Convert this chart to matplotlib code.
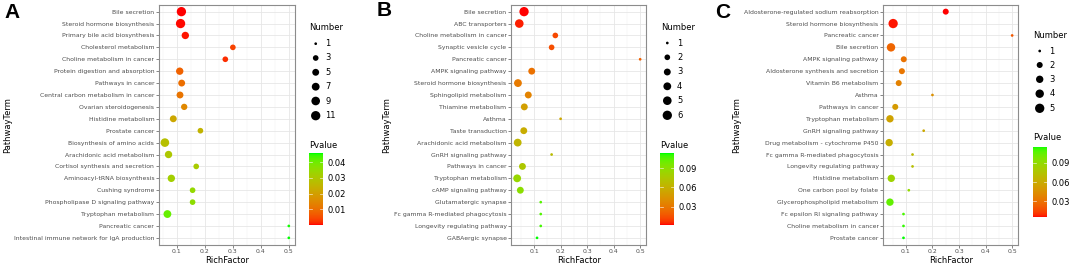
import numpy as np
import matplotlib
matplotlib.use("Agg")
import matplotlib.pyplot as plt
from matplotlib.colors import ListedColormap, Normalize

# ---------------- data ----------------
terms_a = ["Bile secretion", "Steroid hormone biosynthesis", "Primary bile acid biosynthesis",
           "Cholesterol metabolism", "Choline metabolism in cancer", "Protein digestion and absorption",
           "Pathways in cancer", "Central carbon metabolism in cancer", "Ovarian steroidogenesis",
           "Histidine metabolism", "Prostate cancer", "Biosynthesis of amino acids",
           "Arachidonic acid metabolism", "Cortisol synthesis and secretion", "Aminoacyl-tRNA biosynthesis",
           "Cushing syndrome", "Phospholipase D signaling pathway", "Tryptophan metabolism",
           "Pancreatic cancer", "Intestinal immune network for IgA production"]
rich_a = [0.116, 0.113, 0.130, 0.300, 0.273, 0.110, 0.117, 0.111, 0.126, 0.087,
          0.184, 0.057, 0.070, 0.169, 0.080, 0.156, 0.156, 0.066, 0.5, 0.5]
count_a = [11, 11, 6, 3, 3, 6, 5, 5, 4, 5, 3, 9, 6, 3, 6, 3, 3, 7, 1, 1]
pval_a = [0.0001, 0.0003, 0.0008, 0.004, 0.002, 0.008, 0.010, 0.011, 0.015, 0.022,
          0.025, 0.028, 0.030, 0.031, 0.032, 0.035, 0.036, 0.041, 0.0455, 0.0457]

terms_b = ["Bile secretion", "ABC transporters", "Choline metabolism in cancer", "Synaptic vesicle cycle",
           "Pancreatic cancer", "AMPK signaling pathway", "Steroid hormone biosynthesis",
           "Sphingolipid metabolism", "Thiamine metabolism", "Asthma", "Taste transduction",
           "Arachidonic acid metabolism", "GnRH signaling pathway", "Pathways in cancer",
           "Tryptophan metabolism", "cAMP signaling pathway", "Glutamatergic synapse",
           "Fc gamma R-mediated phagocytosis", "Longevity regulating pathway", "GABAergic synapse"]
rich_b = [0.062, 0.044, 0.180, 0.166, 0.5, 0.091, 0.039, 0.078, 0.063, 0.2,
          0.061, 0.038, 0.166, 0.056, 0.036, 0.048, 0.125, 0.125, 0.125, 0.111]
count_b = [6, 5, 2, 2, 1, 3, 4, 3, 3, 1, 3, 4, 1, 3, 4, 3, 1, 1, 1, 1]
pval_b = [0.0014, 0.004, 0.012, 0.014, 0.020, 0.027, 0.031, 0.035, 0.050, 0.055,
          0.058, 0.063, 0.068, 0.075, 0.085, 0.090, 0.105, 0.106, 0.108, 0.113]

terms_c = ["Aldosterone-regulated sodium reabsorption", "Steroid hormone biosynthesis", "Pancreatic cancer",
           "Bile secretion", "AMPK signaling pathway", "Aldosterone synthesis and secretion",
           "Vitamin B6 metabolism", "Asthma", "Pathways in cancer", "Tryptophan metabolism",
           "GnRH signaling pathway", "Drug metabolism - cytochrome P450", "Fc gamma R-mediated phagocytosis",
           "Longevity regulating pathway", "Histidine metabolism", "One carbon pool by folate",
           "Glycerophospholipid metabolism", "Fc epsilon RI signaling pathway",
           "Choline metabolism in cancer", "Prostate cancer"]
rich_c = [0.250, 0.052, 0.5, 0.044, 0.092, 0.085, 0.073, 0.2, 0.060, 0.040,
          0.167, 0.037, 0.125, 0.125, 0.045, 0.111, 0.040, 0.091, 0.091, 0.091]
count_c = [2, 5, 1, 4, 2, 2, 2, 1, 2, 3, 1, 3, 1, 1, 3, 1, 3, 1, 1, 1]
pval_c = [0.0043, 0.006, 0.020, 0.025, 0.030, 0.032, 0.037, 0.045, 0.050, 0.055,
          0.058, 0.062, 0.070, 0.072, 0.085, 0.090, 0.105, 0.110, 0.113, 0.1157]

size_breaks_a = [1, 3, 5, 7, 9, 11]
size_breaks_b = [1, 2, 3, 4, 5, 6]
size_breaks_c = [1, 2, 3, 4, 5]
cbar_ticks_a = [0.01, 0.02, 0.03, 0.04]
cbar_ticks_b = [0.03, 0.06, 0.09]
cbar_ticks_c = [0.03, 0.06, 0.09]
panel_letters = ["A", "B", "C"]

# ---------------- colour map: Lab interpolation red -> green ----------------
_M = np.array([[0.4124564, 0.3575761, 0.1804375],
               [0.2126729, 0.7151522, 0.0721750],
               [0.0193339, 0.1191920, 0.9503041]])
_WHITE = np.array([0.95047, 1.0, 1.08883])

def _srgb_to_lab(rgb):
    rgb = np.asarray(rgb, float)
    lin = np.where(rgb <= 0.04045, rgb / 12.92, ((rgb + 0.055) / 1.055) ** 2.4)
    xyz = _M @ lin / _WHITE
    d = 6 / 29
    f = np.where(xyz > d ** 3, np.cbrt(xyz), xyz / (3 * d * d) + 4 / 29)
    return np.array([116 * f[1] - 16, 500 * (f[0] - f[1]), 200 * (f[1] - f[2])])

def _lab_to_srgb(lab):
    L, a, b = lab
    fy = (L + 16) / 116
    fx = fy + a / 500
    fz = fy - b / 200
    d = 6 / 29
    finv = lambda t: np.where(t > d, t ** 3, 3 * d * d * (t - 4 / 29))
    xyz = np.array([finv(fx), finv(fy), finv(fz)]) * _WHITE[:, None]
    lin = np.clip(np.linalg.inv(_M) @ xyz, 0, 1)
    srgb = np.where(lin <= 0.0031308, 12.92 * lin, 1.055 * lin ** (1 / 2.4) - 0.055)
    return np.clip(srgb, 0, 1).T

lab0 = _srgb_to_lab([1, 0, 0])
lab1 = _srgb_to_lab([0, 1, 0])
tt = np.linspace(0, 1, 256)
labs = lab0[:, None] * (1 - tt) + lab1[:, None] * tt
cmap = ListedColormap(_lab_to_srgb(labs))

# ---------------- layout ----------------
W, H = 1072, 266
fig = plt.figure(figsize=(W / 100, H / 100), dpi=100)
plt.rcParams['font.family'] = ['DejaVu Sans']

def box(l, t, r, b):
    return [l / W, 1 - b / H, (r - l) / W, (b - t) / H]

overlay = fig.add_axes([0, 0, 1, 1], zorder=10)
overlay.set_xlim(0, W)
overlay.set_ylim(H, 0)
overlay.axis("off")
overlay.patch.set_alpha(0)

def size_pt2(n, nmin, nmax):
    t = (np.asarray(n, float) - nmin) / (nmax - nmin)
    d_px = 2.7 + 6.6 * np.sqrt(t)
    return (d_px * 0.72) ** 2

panels = [
    dict(terms=terms_a, rich=rich_a, count=count_a, pval=pval_a, breaks=size_breaks_a,
         cticks=cbar_ticks_a, ax=(158.7, 4.5, 295, 245), num=(309, 28), dotx=315.7, labx=325.5,
         ys=[43.7, 58, 72.3, 86.7, 101, 115.7], pv=(309, 145.3), cb=(309, 153.3, 323, 225),
         letter=(4, 12), ylab=7.5),
    dict(terms=terms_b, rich=rich_b, count=count_b, pval=pval_b, breaks=size_breaks_b,
         cticks=cbar_ticks_b, ax=(511, 4.5, 646.3, 245), num=(660.7, 28), dotx=667.3, labx=677,
         ys=[43, 57.3, 72, 86.3, 100.7, 115.3], pv=(660, 145), cb=(660, 153.3, 674, 225),
         letter=(377, 11), ylab=387),
    dict(terms=terms_c, rich=rich_c, count=count_c, pval=pval_c, breaks=size_breaks_c,
         cticks=cbar_ticks_c, ax=(883, 4.5, 1018.3, 245), num=(1032.7, 35), dotx=1039.7, labx=1049.5,
         ys=[51, 65, 79.3, 93.7, 108.3], pv=(1032.7, 137.7), cb=(1032.7, 146.7, 1046.7, 217.3),
         letter=(715, 12), ylab=737),
]

grey_txt = "#4D4D4D"
for i, p in enumerate(panels):
    ax = fig.add_axes(box(*p["ax"]))
    n = len(p["terms"])
    ypos = np.arange(n)
    rich = np.asarray(p["rich"])
    nmin, nmax = min(p["breaks"]), max(p["breaks"])
    norm = Normalize(vmin=min(p["pval"]), vmax=max(p["pval"]))
    ax.scatter(rich, ypos, s=size_pt2(p["count"], nmin, nmax), c=p["pval"], cmap=cmap, norm=norm,
               linewidths=0, zorder=3)
    rng = rich.max() - rich.min()
    ax.set_xlim(rich.min() - 0.05 * rng, rich.max() + 0.05 * rng)
    ax.set_ylim(n - 1 + 0.6, -0.6)
    ax.set_yticks(ypos)
    ax.set_yticklabels(p["terms"])
    ax.set_xticks([0.1, 0.2, 0.3, 0.4, 0.5])
    ax.set_xticklabels(["0.1", "0.2", "0.3", "0.4", "0.5"])
    ax.set_xticks([0.05, 0.15, 0.25, 0.35, 0.45], minor=True)
    ax.grid(True, which="major", color="#E6E6E6", lw=0.6, zorder=0)
    ax.grid(True, which="minor", axis="x", color="#F0F0F0", lw=0.35, zorder=0)
    ax.set_axisbelow(True)
    ax.tick_params(axis="both", which="major", labelsize=4.4, labelcolor=grey_txt, color="#555555",
                   length=2.2, width=0.5, pad=1)
    ax.tick_params(axis="x", which="minor", length=0)
    for sp in ax.spines.values():
        sp.set_color("#8C8C8C")
        sp.set_linewidth(0.8)
    ax.set_xlabel("RichFactor", fontsize=6, labelpad=1)
    ax.set_ylabel("")
    overlay.text(p["ylab"], 125, "PathwayTerm", rotation=90, fontsize=6, ha="center", va="center")
    overlay.text(p["letter"][0], p["letter"][1], panel_letters[i], fontsize=15, fontweight="bold",
                 family=["Liberation Sans", "DejaVu Sans"], ha="left", va="center")
    # size legend
    overlay.text(p["num"][0], p["num"][1], "Number", fontsize=6, ha="left", va="center")
    overlay.scatter([p["dotx"]] * len(p["breaks"]), p["ys"], s=size_pt2(p["breaks"], nmin, nmax),
                    c="black", linewidths=0)
    for yv, bv in zip(p["ys"], p["breaks"]):
        overlay.text(p["labx"], yv, str(bv), fontsize=6, ha="left", va="center")
    # colour bar
    overlay.text(p["pv"][0], p["pv"][1], "Pvalue", fontsize=6, ha="left", va="center")
    cax = fig.add_axes(box(*p["cb"]))
    sm = plt.cm.ScalarMappable(norm=norm, cmap=cmap)
    cbar = fig.colorbar(sm, cax=cax)
    cbar.outline.set_visible(False)
    cbar.set_ticks(p["cticks"])
    cbar.set_ticklabels([f"{v:g}" for v in p["cticks"]])
    cax.tick_params(labelsize=6, length=0, pad=3.5)
    for v in p["cticks"]:
        cax.plot([0, 0.2], [v, v], color="white", lw=0.5, alpha=0.8)
        cax.plot([0.8, 1], [v, v], color="white", lw=0.5, alpha=0.8)
    cax.set_xlim(0, 1)

fig.savefig("out.png", dpi=100)
